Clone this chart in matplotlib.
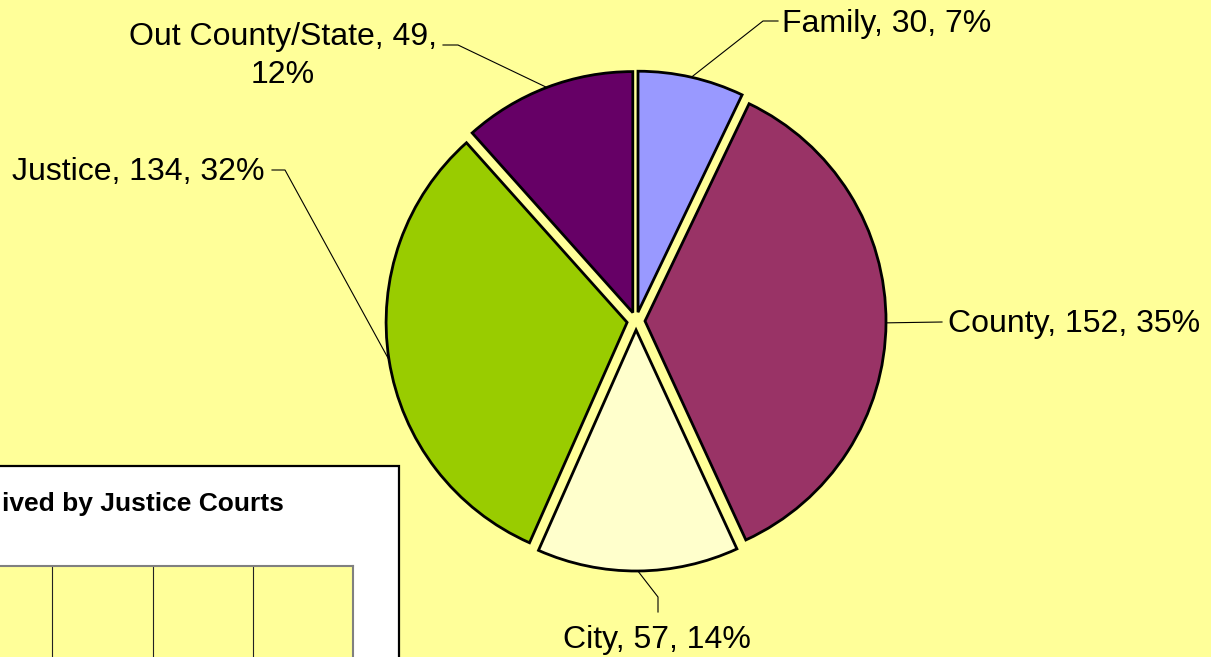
import numpy as np
import matplotlib.pyplot as plt
from matplotlib.patches import Rectangle

# pie data (clockwise from 12 o'clock)
labels = ['Family', 'County', 'City', 'Justice', 'Out County/State']
counts = [30, 152, 57, 134, 49]
pcts = [7, 35, 14, 32, 12]
colors = ['#9999FF', '#993366', '#FFFFCC', '#99CC00', '#660066']

# partly visible inset chart behind, bottom left
inset_title = 'ived by Justice Courts'
inset_ticks = [0, 1, 2, 3, 4]

BG = '#FFFF99'
plt.rcParams['font.family'] = ['Liberation Sans', 'DejaVu Sans']

fig = plt.figure(figsize=(12.11, 6.57), dpi=100)
fig.patch.set_facecolor(BG)

# main axes in pixel coordinates (y downwards)
ax = fig.add_axes([0, 0, 1, 1])
ax.set_facecolor(BG)

cx, cy, r, expl = 636, 321, 241, 9  # explode is in data units (px) here
wedges, _ = ax.pie(counts, colors=colors, startangle=-90, counterclock=True,
                   center=(cx, cy), radius=r, explode=[expl] * len(counts),
                   frame=True,
                   wedgeprops=dict(edgecolor='black', linewidth=2))
ax.set_xlim(0, 1211)
ax.set_ylim(657, 0)
ax.set_aspect('equal')
ax.axis('off')

# label layout: text anchor, alignment and leader line elbows
label_pos = [
    dict(xy=(782, 32), ha='left', path=[(763, 21), (778, 21)]),
    dict(xy=(948, 332), ha='left', path=[(942, 322)]),
    dict(xy=(657, 648), ha='center', path=[(658, 597), (658, 612)]),
    dict(xy=(264, 180), ha='right', path=[(285, 170), (272, 170)]),
    dict(xy=(283, 56), ha='center', path=[(458, 45), (443, 45)]),
]

for w, lab, n, p, pos in zip(wedges, labels, counts, pcts, label_pos):
    mid = np.deg2rad((w.theta1 + w.theta2) / 2)
    wx, wy = w.center
    ax_x = wx + r * np.cos(mid)
    ax_y = wy + r * np.sin(mid)
    pts = [(ax_x, ax_y)] + pos['path']
    ax.plot([q[0] for q in pts], [q[1] for q in pts], color='black', lw=0.8)
    if lab == 'Out County/State':
        txt = f'{lab}, {n},\n{p}%'
        ax.text(pos['xy'][0], pos['xy'][1], txt, ha='center', va='center',
                multialignment='center', fontsize=23, linespacing=1.35)
    else:
        txt = f'{lab}, {n}, {p}%'
        ax.text(pos['xy'][0], pos['xy'][1], txt, ha=pos['ha'], va='baseline',
                fontsize=23)

# inset chart frame
ax.add_patch(Rectangle((-10, 466), 409, 200, facecolor='white',
                       edgecolor='black', lw=1.6, zorder=5))
ax.text(2, 511, inset_title, fontsize=19, fontweight='bold', ha='left',
        va='baseline', zorder=6)

iax = fig.add_axes([-48 / 1211, -60 / 657, 401 / 1211, 151 / 657])
iax.set_facecolor(BG)
iax.set_xlim(inset_ticks[0], inset_ticks[-1])
iax.set_ylim(0, 1)
iax.set_xticks(inset_ticks)
iax.set_yticks([])
iax.tick_params(length=0, labelbottom=False)
iax.grid(axis='x', color='#222222', lw=0.8)
for s in iax.spines.values():
    s.set_color('#808080')
    s.set_linewidth(1.5)

plt.savefig('out.png', dpi=100, facecolor=BG)
